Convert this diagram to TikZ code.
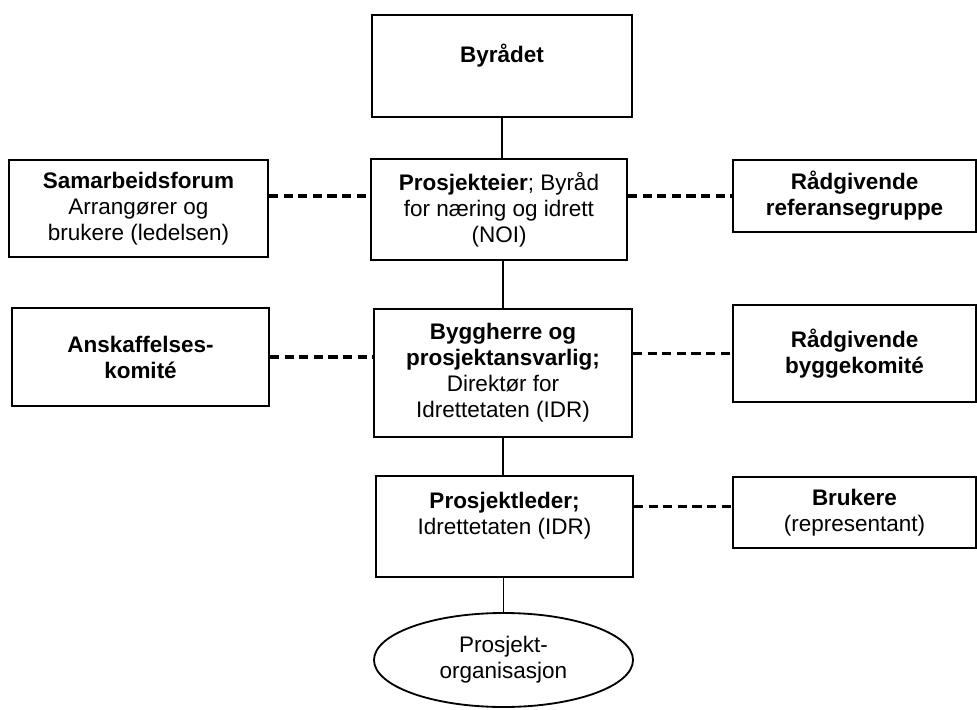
\documentclass[tikz,border=0pt]{standalone}
\usepackage{fontspec}
\setmainfont{Liberation Sans}
\usetikzlibrary{shapes.geometric}

\begin{document}
\begin{tikzpicture}[
        box/.style={draw, line width=1.3pt, rectangle, align=center, inner sep=0pt,
            font=\fontsize{16}{18.5}\selectfont},
        oval/.style={draw, line width=1.3pt, ellipse, align=center, inner sep=0pt,
            font=\fontsize{16}{18.5}\selectfont},
        link/.style={line width=1.2pt},
        dashlink/.style={line width=2.2pt, dash pattern=on 6.6pt off 3.8pt}]
        \useasboundingbox (0,0) rectangle (24.425,-17.725);
        \node[box, minimum width=6.5cm, minimum height=2.55cm] (byraadet) at (12.55,-1.65)
            {\textbf{Byrådet}\\\mbox{}};
        \node[box, minimum width=6.4cm, minimum height=2.525cm] (eier) at (12.475,-5.2375)
            {\textbf{Prosjekteier}; Byråd\\for næring og idrett\\(NOI)};
        \node[box, minimum width=6.475cm, minimum height=2.425cm] (samarbeid) at (3.4625,-5.2125)
            {\textbf{Samarbeidsforum}\\Arrangører og\\brukere (ledelsen)};
        \node[box, minimum width=6.075cm, minimum height=1.8cm] (referanse) at (21.3625,-4.9)
            {\textbf{Rådgivende}\\\textbf{referansegruppe}};
        \node[box, minimum width=6.425cm, minimum height=2.45cm] (anskaffelse) at (3.5125,-8.925)
            {\textbf{Anskaffelses-}\\\textbf{komité}};
        \node[box, minimum width=6.45cm, minimum height=3.2cm] (byggherre) at (12.575,-9.325)
            {\textbf{Byggherre og}\\\textbf{prosjektansvarlig;}\\Direktør for\\Idrettetaten (IDR)};
        \node[box, minimum width=6.075cm, minimum height=2.425cm] (byggekomite) at (21.3625,-8.8375)
            {\textbf{Rådgivende}\\\textbf{byggekomité}};
        \node[box, minimum width=6.425cm, minimum height=2.525cm] (leder) at (12.6125,-13.1625)
            {\textbf{Prosjektleder;}\\Idrettetaten (IDR)\\\mbox{}};
        \node[box, minimum width=6.075cm, minimum height=1.775cm] (brukere) at (21.3625,-12.8125)
            {\textbf{Brukere}\\(representant)};
        \node[oval, minimum width=6.475cm, minimum height=2.35cm] (org) at (12.5875,-16.5)
            {Prosjekt-\\organisasjon};
        \draw[link] (byraadet.south) -- (byraadet.south |- eier.north);
        \draw[link] (byggherre.north |- eier.south) -- (byggherre.north);
        \draw[link] (byggherre.south) -- (byggherre.south |- leder.north);
        \draw[link] (org.north |- leder.south) -- (org.north);
        \draw[dashlink] (samarbeid.east |- referanse.west) -- (eier.west |- referanse.west);
        \draw[dashlink] (eier.east |- referanse.west) -- (referanse.west);
        \draw[dashlink] (anskaffelse.east) -- (byggherre.west |- anskaffelse.east);
        \draw[dashlink] (byggherre.east |- byggekomite.west) -- (byggekomite.west);
        \coordinate (brukerlink) at ([yshift=0.16cm]brukere.west);
        \draw[dashlink] (leder.east |- brukerlink) -- (brukerlink);
\end{tikzpicture}
\end{document}
